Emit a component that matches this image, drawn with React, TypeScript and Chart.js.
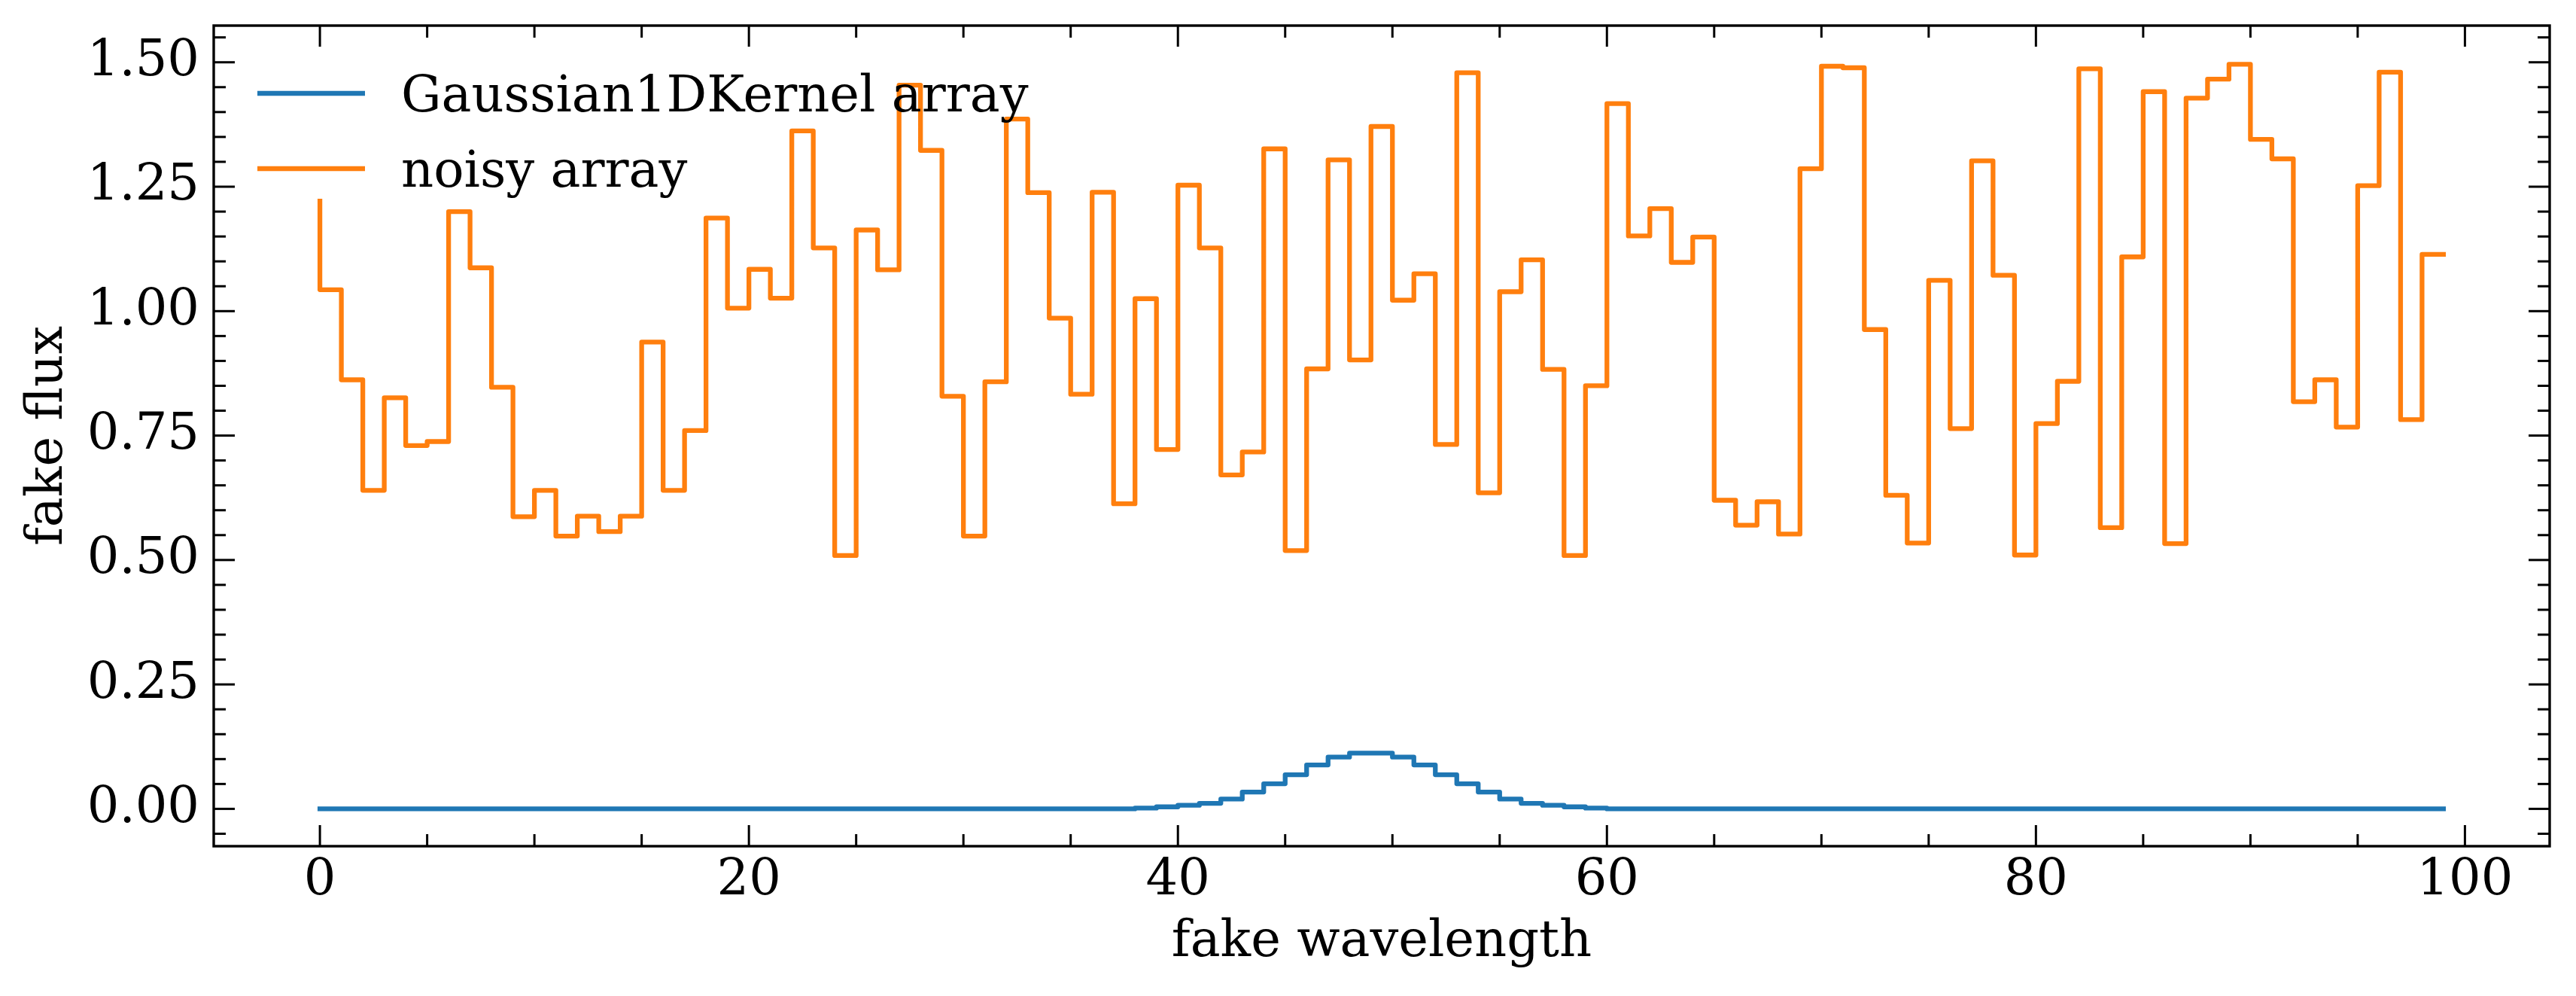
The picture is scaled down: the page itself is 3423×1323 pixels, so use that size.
import { useEffect, useRef } from "react";
import { Chart, registerables } from "chart.js";

Chart.register(...registerables);

// Normalised Gaussian kernel (flat outside the window around the centre)
const gaussianKernel: number[] = [
  0, 0, 0, 0, 0, 0, 0, 0, 0, 0,
  0, 0, 0, 0, 0, 0, 0, 0, 0, 0,
  0, 0, 0, 0, 0, 0, 0, 0, 0, 0,
  0, 0, 0, 0, 0, 0, 0, 0, 0, 0.0015,
  0.004, 0.0071, 0.0111, 0.0197, 0.0338, 0.0504, 0.0686, 0.0882, 0.1039, 0.1119,
  0.1119, 0.1039, 0.0882, 0.0686, 0.0504, 0.0338, 0.0197, 0.0111, 0.0071, 0.004,
  0.0015, 0, 0, 0, 0, 0, 0, 0, 0, 0,
  0, 0, 0, 0, 0, 0, 0, 0, 0, 0,
  0, 0, 0, 0, 0, 0, 0, 0, 0, 0,
  0, 0, 0, 0, 0, 0, 0, 0, 0, 0,
];

// Noisy flux samples
const noisyArray: number[] = [
  1.221, 1.043, 0.862, 0.640, 0.826, 0.730, 0.738, 1.200, 1.087, 0.847,
  0.587, 0.640, 0.548, 0.588, 0.557, 0.588, 0.938, 0.640, 0.760, 1.187,
  1.006, 1.084, 1.026, 1.362, 1.127, 0.509, 1.163, 1.083, 1.454, 1.323,
  0.829, 0.548, 0.858, 1.386, 1.238, 0.986, 0.833, 1.239, 0.613, 1.025,
  0.722, 1.253, 1.127, 0.671, 0.717, 1.326, 0.519, 0.884, 1.304, 0.902,
  1.371, 1.022, 1.075, 0.732, 1.479, 0.635, 1.039, 1.103, 0.883, 0.509,
  0.850, 1.417, 1.151, 1.206, 1.098, 1.149, 0.620, 0.570, 0.617, 0.552,
  1.286, 1.492, 1.489, 0.963, 0.630, 0.534, 1.062, 0.764, 1.302, 1.072,
  0.510, 0.774, 0.859, 1.487, 0.565, 1.109, 1.441, 0.533, 1.428, 1.466,
  1.496, 1.345, 1.306, 0.818, 0.862, 0.767, 1.252, 1.480, 0.782, 1.114,
];

// Wavelength index of every sample
const wavelength: number[] = noisyArray.map((_, i) => i);

const seriesLabels = ["Gaussian1DKernel array", "noisy array"];
const seriesColors = ["#1f77b4", "#ff7f0e"];

const xTitle = "fake wavelength";
const yTitle = "fake flux";

const W = 3423;
const H = 1323;
const FONT_FAMILY = '"DejaVu Serif", "Liberation Serif", serif';
const FONT_SIZE = 67;

const MAJOR_LEN = 28;
const MINOR_LEN = 16;

// Spines on all four sides with inward major/minor ticks, plus the legend
const framePlugin = {
  id: "frame",
  afterDraw(chart: any) {
    const { ctx, chartArea } = chart;
    const { left, right, top, bottom } = chartArea;
    const xs = chart.scales.x;
    const ys = chart.scales.y;
    ctx.save();
    ctx.strokeStyle = "#000";
    ctx.lineCap = "butt";

    const seg = (x1: number, y1: number, x2: number, y2: number) => {
      ctx.beginPath();
      ctx.moveTo(x1, y1);
      ctx.lineTo(x2, y2);
      ctx.stroke();
    };

    const steps = (min: number, max: number, step: number) => {
      const out: number[] = [];
      const start = Math.ceil(min / step - 1e-9);
      for (let k = start; k * step <= max + 1e-9; k++) out.push(k * step);
      return out;
    };

    ctx.lineWidth = 3;
    // x ticks (bottom and top)
    steps(xs.min, xs.max, 5).forEach((v) => {
      const major = Math.abs(v / 20 - Math.round(v / 20)) < 1e-6;
      const len = major ? MAJOR_LEN : MINOR_LEN;
      const px = xs.getPixelForValue(v);
      seg(px, bottom, px, bottom - len);
      seg(px, top, px, top + len);
    });
    // y ticks (left and right)
    steps(ys.min, ys.max, 0.05).forEach((v) => {
      const major = Math.abs(v / 0.25 - Math.round(v / 0.25)) < 1e-6;
      const len = major ? MAJOR_LEN : MINOR_LEN;
      const py = ys.getPixelForValue(v);
      seg(left, py, left + len, py);
      seg(right, py, right - len, py);
    });

    ctx.lineWidth = 3.4;
    ctx.strokeRect(left, top, right - left, bottom - top);

    // legend, upper left inside the axes
    ctx.font = `${FONT_SIZE}px ${FONT_FAMILY}`;
    ctx.textBaseline = "alphabetic";
    ctx.textAlign = "left";
    chart.data.datasets.forEach((ds: any, i: number) => {
      const ly = top + 90 + i * 100;
      ctx.strokeStyle = ds.borderColor;
      ctx.lineWidth = 6.3;
      ctx.lineCap = "butt";
      seg(left + 58, ly, left + 201, ly);
      ctx.fillStyle = "#000";
      ctx.fillText(ds.label, left + 249, ly + 24);
    });
    ctx.restore();
  },
};

export default function App() {
  const canvasRef = useRef<HTMLCanvasElement>(null);

  useEffect(() => {
    document.body.style.margin = "0";
    const canvas = canvasRef.current;
    if (!canvas) return;

    const font = { family: FONT_FAMILY, size: FONT_SIZE };
    const series = [gaussianKernel, noisyArray];

    const chart = new Chart(canvas, {
      type: "line",
      data: {
        datasets: series.map((values, i) => ({
          label: seriesLabels[i],
          data: values.map((v, j) => ({ x: wavelength[j], y: v })),
          borderColor: seriesColors[i],
          backgroundColor: seriesColors[i],
          borderWidth: 6.3,
          stepped: "after" as const,
          pointRadius: 0,
          fill: false,
          borderJoinStyle: "round" as const,
          borderCapStyle: "square" as const,
        })),
      },
      options: {
        responsive: false,
        animation: false,
        devicePixelRatio: 1,
        layout: { padding: { top: 34, right: 35, left: 0, bottom: 0 } },
        plugins: {
          legend: { display: false },
          tooltip: { enabled: false },
        },
        scales: {
          x: {
            type: "linear",
            min: -4.95,
            max: 103.95,
            grid: { display: false, drawTicks: false },
            border: { display: false },
            ticks: {
              stepSize: 20,
              includeBounds: false,
              autoSkip: false,
              maxRotation: 0,
              color: "#000",
              font,
              padding: 6,
            },
            title: {
              display: true,
              text: xTitle,
              color: "#000",
              font,
              padding: { top: 0, bottom: 30 },
            },
            afterFit: (s: any) => {
              s.height = 199;
              s.paddingLeft = 0;
              s.paddingRight = 0;
            },
          },
          y: {
            type: "linear",
            min: -0.075,
            max: 1.5737,
            grid: { display: false, drawTicks: false },
            border: { display: false },
            ticks: {
              stepSize: 0.25,
              includeBounds: false,
              color: "#000",
              font,
              padding: 19,
              callback: (v: any) => Number(v).toFixed(2),
            },
            title: {
              display: true,
              text: yTitle,
              color: "#000",
              font,
              padding: { top: 24, bottom: 0 },
            },
            afterFit: (s: any) => {
              s.width = 284;
              s.paddingTop = 0;
              s.paddingBottom = 0;
            },
          },
        },
      },
      plugins: [framePlugin],
    });

    return () => chart.destroy();
  }, []);

  return (
    <div style={{ width: W, height: H, background: "#fff" }}>
      <canvas ref={canvasRef} width={W} height={H} style={{ display: "block" }} />
    </div>
  );
}
